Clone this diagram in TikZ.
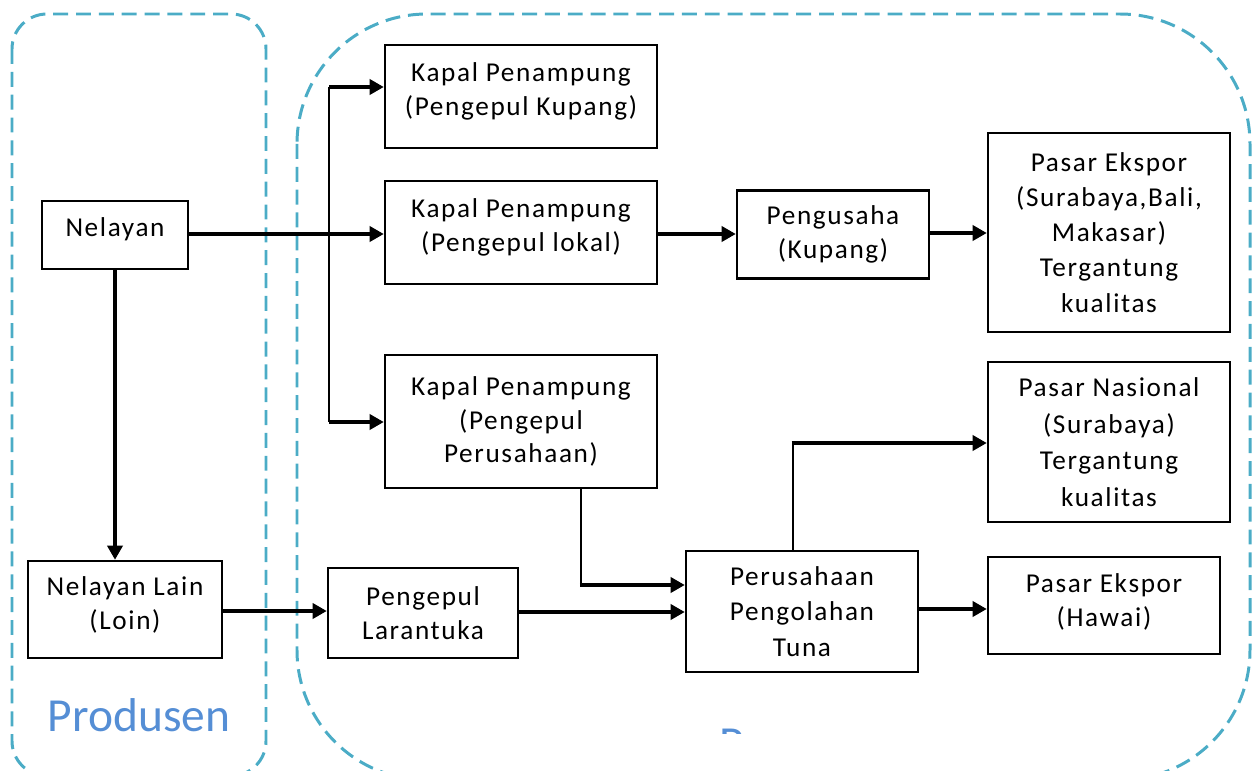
\documentclass[tikz,border=0pt]{standalone}
\usepackage{fontspec}
\setmainfont{Carlito}
\newfontfamily\boxfont{Carlito}[LetterSpace=6]
\newfontfamily\labfont{Carlito}
\usetikzlibrary{arrows.meta}
\definecolor{dashc}{HTML}{4BACC6}
\definecolor{labc}{HTML}{558ED5}
\tikzset{
  bx/.style={draw, line width=1.4pt, align=center, inner sep=0pt,
    font=\boxfont\fontsize{15.5pt}{19pt}\selectfont},
  thk/.style={line width=2.8pt, -{Triangle[length=8pt,width=8.5pt]}},
  med/.style={line width=2.2pt, -{Triangle[length=8pt,width=8.5pt]}},
  thn/.style={line width=1.2pt},
  cont/.style={draw=dashc, line width=1.7pt, dash pattern=on 8.5pt off 4.5pt},
}
\begin{document}
\begin{tikzpicture}[x=0.02cm,y=-0.02cm]
\useasboundingbox (0,0) rectangle (1259,771);
\begin{scope}
\clip (0,0) rectangle (1259,771);
\draw[cont, rounded corners=0.7cm] (12,14) rectangle (266,776);
\draw[cont, rounded corners=2.6cm] (297,14) rectangle (1250,780);
\end{scope}
\node[font=\labfont\fontsize{27pt}{31pt}\selectfont, text=labc, anchor=base, inner sep=0pt] (prod) at (139,731) {Produsen};
\begin{scope}
\clip (700,700) rectangle (760,733);
\node[font=\labfont\fontsize{27pt}{31pt}\selectfont, text=labc, anchor=base west, inner sep=0pt] (kons) at (719,759) {P};
\end{scope}

\node[bx, minimum width=2.92cm, minimum height=1.36cm, text depth=9.5pt] (nel) at (115,235) {Nelayan};
\node[bx, minimum width=3.88cm, minimum height=1.94cm, text depth=7.5pt] (nell) at (125,609.5) {Nelayan Lain\\(Loin)};
\node[bx, minimum width=5.44cm, minimum height=2.06cm, text depth=8.5pt] (k1) at (521,96.5) {Kapal Penampung\\(Pengepul Kupang)};
\node[bx, minimum width=5.44cm, minimum height=2.06cm, text depth=8.5pt] (k2) at (521,232.5) {Kapal Penampung\\(Pengepul lokal)};
\node[bx, minimum width=5.44cm, minimum height=2.66cm] (k3) at (521,421.5) {Kapal Penampung\\(Pengepul\\Perusahaan)};
\node[bx, minimum width=3.84cm, minimum height=1.76cm] (pus) at (833,234.5) {Pengusaha\\(Kupang)};
\node[bx, minimum width=4.84cm, minimum height=3.98cm, font=\boxfont\fontsize{15.5pt}{20pt}\selectfont] (pe1) at (1109,232.5) {Pasar Ekspor\\(Surabaya,Bali,\\Makasar)\\Tergantung\\kualitas};
\node[bx, minimum width=4.84cm, minimum height=3.2cm, font=\boxfont\fontsize{15.5pt}{20.8pt}\selectfont] (pn) at (1109,442) {Pasar Nasional\\(Surabaya)\\Tergantung\\kualitas};
\node[bx, minimum width=4.64cm, minimum height=1.94cm, text depth=6pt] (pe2) at (1104,605.5) {Pasar Ekspor\\(Hawai)};
\node[bx, minimum width=3.8cm, minimum height=1.8cm] (pl) at (423,613) {Pengepul\\Larantuka};
\node[bx, minimum width=4.64cm, minimum height=2.42cm, font=\boxfont\fontsize{15.5pt}{20.4pt}\selectfont] (ppt) at (802,611.5) {Perusahaan\\Pengolahan\\Tuna};

\coordinate (j1) at (329,87);
\coordinate (j2) at (329,422);
\coordinate (a) at (nel.east |- 0,234);
\draw[thk] (a) -- (a -| k2.west);
\draw[thn] (j1) -- (j2);
\draw[thk] (j1) -- (j1 -| k1.west);
\draw[thk] (j2) -- (j2 -| k3.west);
\draw[thk] (nel.south) -- (nel.south |- nell.north);
\coordinate (b) at (nell.east |- 0,611);
\draw[med] (b) -- (b -| pl.west);
\coordinate (c) at (581,0);
\coordinate (c2) at (581,585);
\draw[thn] (c |- k3.south) -- (c2);
\draw[thk] ([xshift=-0.7pt]c2) -- (c2 -| ppt.west);
\coordinate (d) at (pl.east |- 0,612);
\draw[thk] (d) -- (d -| ppt.west);
\coordinate (e) at (ppt.east |- 0,609);
\draw[thk] (e) -- (e -| pe2.west);
\coordinate (f) at (793,0);
\coordinate (f2) at (793,443);
\draw[line width=1.7pt] (f |- ppt.north) -- (f2);
\draw[thk] ([xshift=-0.85pt]f2) -- (f2 -| pn.west);
\coordinate (g) at (k2.east |- 0,234);
\draw[thk] (g) -- (g -| pus.west);
\coordinate (h) at (pus.east |- 0,233);
\draw[thk] (h) -- (h -| pe1.west);
\end{tikzpicture}
\end{document}
